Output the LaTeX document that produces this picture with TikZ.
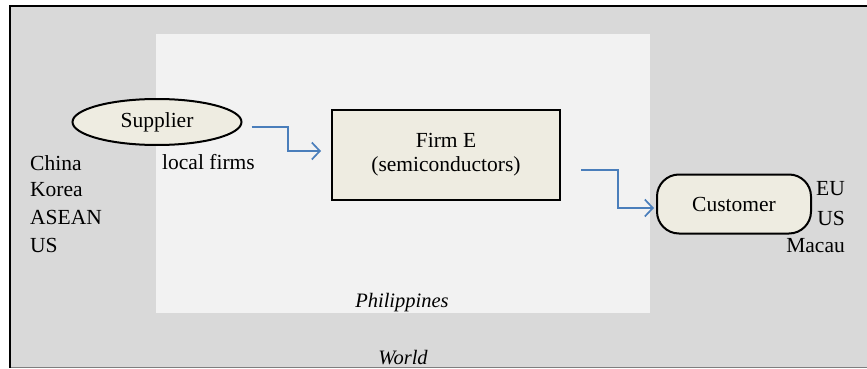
\documentclass[tikz,border=0pt]{standalone}
\usepackage{fontspec}
\setmainfont{Liberation Serif}
\usetikzlibrary{shapes.geometric,arrows.meta,positioning}
\definecolor{worldgray}{HTML}{D9D9D9}
\definecolor{philgray}{HTML}{F2F2F2}
\definecolor{nodefill}{HTML}{EEECE1}
\definecolor{flowblue}{HTML}{4A7EBB}
\definecolor{edgegray}{HTML}{7F7F7F}
\tikzset{
  lbl/.style={font=\fontsize{21.5}{24}\selectfont, inner sep=0pt, text=black},
  region/.style={font=\fontsize{20.5}{23}\selectfont\itshape, inner sep=0pt, text=black},
  actor/.style={draw=black, line width=2pt, fill=nodefill, font=\fontsize{21.5}{24}\selectfont, inner sep=0pt},
  flow/.style={draw=flowblue, line width=1.7pt, -{Straight Barb[length=8pt,width=17pt,line width=1.7pt]}},
}
\begin{document}
\begin{tikzpicture}[x=1pt,y=-1pt]
\useasboundingbox (0,0) rectangle (867,369);
% World region
\fill[worldgray] (10,6) rectangle (875,367);
\draw[edgegray, line width=1pt] (10,367) -- (875,367);
\draw[black, line width=2.6pt, line cap=rect] (10,367) -- (10,6) -- (875,6);
% Philippines region
\fill[philgray] (156,34) rectangle (650,313);
% nodes
\node[actor, ellipse, minimum width=169pt, minimum height=46pt] (sup) at (157,122) {Supplier};
\node[actor, rectangle, minimum width=228pt, minimum height=90pt, align=center] (firm) at (446,155) {Firm E\\(semiconductors)};
\node[actor, rectangle, rounded corners=22pt, minimum width=154pt, minimum height=59pt] (cust) at (734,204) {Customer};
% labels
\node[lbl, anchor=west] (loc) at (162,162) {local firms};
\node[lbl, anchor=west] (cn) at (30,163) {China};
\node[lbl, anchor=west] (kr) at (30,190) {Korea};
\node[lbl, anchor=west] (as) at (30,217) {ASEAN};
\node[lbl, anchor=west] (us1) at (30,245) {US};
\node[lbl, anchor=east] (eu) at (845,189) {EU};
\node[lbl, anchor=east] (us2) at (845,218) {US};
\node[lbl, anchor=east] (mc) at (845,246) {Macau};
\node[region] (ph) at (402,303) {Philippines};
\node[region] (wd) at (403,358) {World};
% flows
\coordinate (a1) at ([xshift=9pt,yshift=-5pt]sup.east);
\coordinate (a1e) at ([xshift=-10pt,yshift=4pt]firm.west);
\draw[flow] (a1) -- (288,127) |- (a1e);
\coordinate (a2) at ([xshift=20pt,yshift=-15pt]firm.east);
\coordinate (a2e) at ([xshift=-2pt,yshift=-4pt]cust.west);
\draw[flow] (a2) -- (618,170) |- (a2e);
\end{tikzpicture}
\end{document}
